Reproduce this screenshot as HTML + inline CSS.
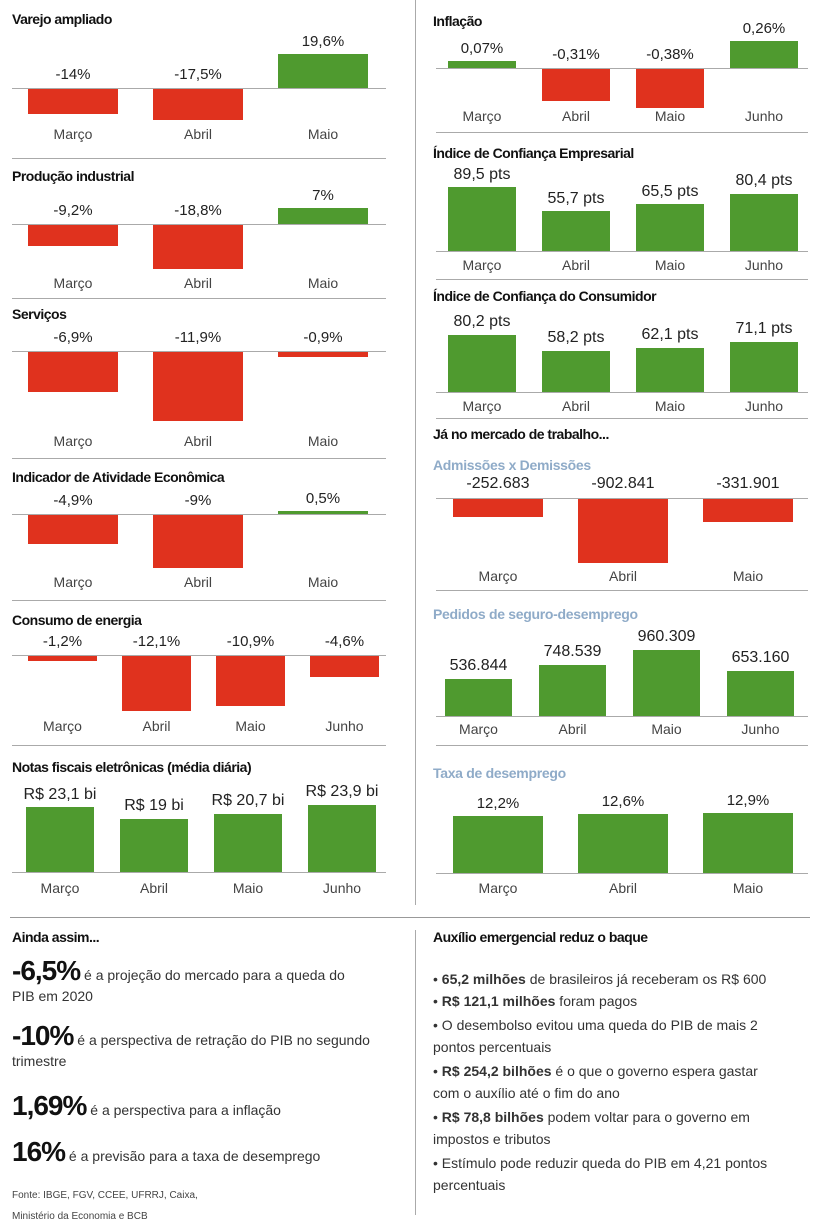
<!DOCTYPE html>
<html><head><meta charset="utf-8">
<style>
html,body{margin:0;padding:0;background:#fff}
#page{position:relative;width:820px;height:1225px;overflow:hidden;font-family:"Liberation Sans Narrow","Liberation Sans",sans-serif;color:#222}
.t{position:absolute;white-space:nowrap;line-height:1}
.b{position:absolute}
.ttl{font-weight:bold;font-size:14px;color:#111;letter-spacing:-0.5px}
.sub{font-weight:bold;font-size:14px;color:#8fabc8;letter-spacing:-0.3px}
.big{font-weight:bold;font-size:28px;color:#111;letter-spacing:-1px}
.txt{font-size:14px;color:#333}
</style></head><body>
<div id="page">
<div class="b" style="left:415px;top:0;width:1px;height:905px;background:#aaa"></div>
<div class="b" style="left:10px;top:917px;width:800px;height:1px;background:#999"></div>
<div class="b" style="left:415px;top:930px;width:1px;height:285px;background:#aaa"></div>

<div class="t ttl" style="left:12px;top:930px">Ainda assim...</div>
<div class="t txt" style="left:12px;top:960px;line-height:21px;white-space:normal;width:380px"><span class="big">-6,5%</span> é a projeção do mercado para a queda do<br>PIB em 2020</div>
<div class="t txt" style="left:12px;top:1025px;line-height:21px;white-space:normal;width:390px"><span class="big">-10%</span> é a perspectiva de retração do PIB no segundo<br>trimestre</div>
<div class="t txt" style="left:12px;top:1092px"><span class="big">1,69%</span> é a perspectiva para a inflação</div>
<div class="t txt" style="left:12px;top:1138px"><span class="big">16%</span> é a previsão para a taxa de desemprego</div>
<div class="t" style="left:12px;top:1185px;font-size:10px;color:#444;line-height:21px">Fonte: IBGE, FGV, CCEE, UFRRJ, Caixa,<br>Ministério da Economia e BCB</div>

<div class="t ttl" style="left:433px;top:930px">Auxílio emergencial reduz o baque</div>
<div class="t txt" style="left:433px;top:969px;line-height:21.5px;white-space:normal;width:370px">
<div>• <b>65,2 milhões</b> de brasileiros já receberam os R$ 600</div>
<div>• <b>R$ 121,1 milhões</b> foram pagos</div>
<div style="margin-top:3px">• O desembolso evitou uma queda do PIB de mais 2<br>pontos percentuais</div>
<div style="margin-top:3px">• <b>R$ 254,2 bilhões</b> é o que o governo espera gastar<br>com o auxílio até o fim do ano</div>
<div style="margin-top:3px">• <b>R$ 78,8 bilhões</b> podem voltar para o governo em<br>impostos e tributos</div>
<div style="margin-top:3px">• Estímulo pode reduzir queda do PIB em 4,21 pontos<br>percentuais</div>
</div>
<div class="t ttl" style="left:433px;top:427px">Já no mercado de trabalho...</div>
</div>
<script>
// ---- data ----
const m3 = ["Março","Abril","Maio"];
const m4 = ["Março","Abril","Maio","Junho"];
const varejoVals = [-14, -17.5, 19.6];
const varejoLabels = ["-14%","-17,5%","19,6%"];
const producaoVals = [-9.2, -18.8, 7];
const producaoLabels = ["-9,2%","-18,8%","7%"];
const servicosVals = [-6.9, -11.9, -0.9];
const servicosLabels = ["-6,9%","-11,9%","-0,9%"];
const ibcVals = [-4.9, -9, 0.5];
const ibcLabels = ["-4,9%","-9%","0,5%"];
const energiaVals = [-1.2, -12.1, -10.9, -4.6];
const energiaLabels = ["-1,2%","-12,1%","-10,9%","-4,6%"];
const notasVals = [23.1, 19, 20.7, 23.9];
const notasLabels = ["R$ 23,1 bi","R$ 19 bi","R$ 20,7 bi","R$ 23,9 bi"];
const inflacaoVals = [0.07, -0.31, -0.38, 0.26];
const inflacaoLabels = ["0,07%","-0,31%","-0,38%","0,26%"];
const iceVals = [89.5, 55.7, 65.5, 80.4];
const iceLabels = ["89,5 pts","55,7 pts","65,5 pts","80,4 pts"];
const iccVals = [80.2, 58.2, 62.1, 71.1];
const iccLabels = ["80,2 pts","58,2 pts","62,1 pts","71,1 pts"];
const cagedVals = [-252683, -902841, -331901];
const cagedLabels = ["-252.683","-902.841","-331.901"];
const seguroVals = [536844, 748539, 960309, 653160];
const seguroLabels = ["536.844","748.539","960.309","653.160"];
const desempVals = [12.2, 12.6, 12.9];
const desempLabels = ["12,2%","12,6%","12,9%"];

const page = document.getElementById('page');
const RED = "#e0321e", GREEN = "#4f9a2f";
function txt(x, y, s, size, cls, name, anchorLeft){
  const d = document.createElement('div');
  d.className = 't ' + (cls||'');
  d.textContent = s;
  d.style.fontSize = size + 'px';
  if (anchorLeft){ d.style.left = x + 'px'; }
  else { d.style.left = (x - 70) + 'px'; d.style.width = '140px'; d.style.textAlign = 'center'; }
  d.style.top = (y - size*0.8) + 'px';
  
  
  page.appendChild(d);
  return d;
}
function hline(x0, x1, y, name, color){
  const d = document.createElement('div');
  d.className = 'b';
  d.style.cssText = `left:${x0}px;top:${y}px;width:${x1-x0}px;height:1px;background:${color||'#999'}`;
  
  
  page.appendChild(d);
}
function chart(c){
  txt(c.tx, c.ty, c.title, 14, c.sub ? 'sub' : 'ttl', c.id + '-title', true);
  const yScale = v => v * c.k;
  hline(c.lx0, c.lx1, c.zero, c.id + '-zero-line', '#aaa');
  c.vals.forEach((v, i) => {
    const x = c.x0 + i * c.step;
    const h = Math.max(2, Math.abs(yScale(v)));
    const top = v >= 0 ? c.zero - h : c.zero + 1;
    const bar = document.createElement('div');
    bar.className = 'b';
    bar.style.cssText = `left:${x}px;top:${top}px;width:${c.w}px;height:${h}px;background:${v>=0?GREEN:RED}`;
    
    
    page.appendChild(bar);
    const cx = x + c.w/2;
    const ly = v >= 0 ? top - 8 : c.zero - 9;
    txt(cx, ly, c.labels[i], c.vs || 15, '', c.id + '-value-label');
    txt(cx, c.my, c.cats[i], 14, '', c.id + '-month-label').style.color = '#444';
  });
  if (c.div) hline(c.lx0, c.lx1, c.div, c.id + '-divider', '#aaa');
}
// left column
chart({id:'varejo',title:'Varejo ampliado',tx:12,ty:23,zero:88,k:1.75,x0:28,step:125,w:90,cats:m3,vals:varejoVals,labels:varejoLabels,my:138,lx0:12,lx1:386,div:158});
chart({id:'producao',title:'Produção industrial',tx:12,ty:180,zero:224,k:2.33,x0:28,step:125,w:90,cats:m3,vals:producaoVals,labels:producaoLabels,my:287,lx0:12,lx1:386,div:298});
chart({id:'servicos',title:'Serviços',tx:12,ty:318,zero:351,k:5.8,x0:28,step:125,w:90,cats:m3,vals:servicosVals,labels:servicosLabels,my:445,lx0:12,lx1:386,div:458});
chart({id:'ibc',title:'Indicador de Atividade Econômica',tx:12,ty:481,zero:514,k:5.9,x0:28,step:125,w:90,cats:m3,vals:ibcVals,labels:ibcLabels,my:586,lx0:12,lx1:386,div:600});
chart({id:'energia',title:'Consumo de energia',tx:12,ty:624,zero:655,k:4.55,x0:28,step:94,w:69,cats:m4,vals:energiaVals,labels:energiaLabels,my:730,lx0:12,lx1:386,div:745});
chart({id:'notas',title:'Notas fiscais eletrônicas (média diária)',tx:12,ty:771,zero:872,k:2.8,x0:26,step:94,w:68,cats:m4,vals:notasVals,labels:notasLabels,my:892,lx0:12,lx1:386,vs:16});
// right column
chart({id:'inflacao',title:'Inflação',tx:433,ty:25,zero:68,k:102,x0:448,step:94,w:68,cats:m4,vals:inflacaoVals,labels:inflacaoLabels,my:120,lx0:436,lx1:808,div:132});
chart({id:'ice',title:'Índice de Confiança Empresarial',tx:433,ty:157,zero:251,k:0.71,x0:448,step:94,w:68,cats:m4,vals:iceVals,labels:iceLabels,my:269,lx0:436,lx1:808,div:279,vs:16});
chart({id:'icc',title:'Índice de Confiança do Consumidor',tx:433,ty:300,zero:392,k:0.71,x0:448,step:94,w:68,cats:m4,vals:iccVals,labels:iccLabels,my:410,lx0:436,lx1:808,vs:16});
hline(436,808,418,'icc-divider','#aaa');
chart({id:'caged',title:'Admissões x Demissões',sub:1,tx:433,ty:469,zero:498,k:0.0000708,x0:453,step:125,w:90,cats:m3,vals:cagedVals,labels:cagedLabels,my:580,lx0:436,lx1:808,div:590,vs:16});
chart({id:'seguro',title:'Pedidos de seguro-desemprego',sub:1,tx:433,ty:618,zero:716,k:0.0000688,x0:445,step:94,w:67,cats:m4,vals:seguroVals,labels:seguroLabels,my:733,lx0:436,lx1:808,div:745,vs:16});
chart({id:'desemprego',title:'Taxa de desemprego',sub:1,tx:433,ty:777,zero:873,k:4.65,x0:453,step:125,w:90,cats:m3,vals:desempVals,labels:desempLabels,my:892,lx0:436,lx1:808});
</script>
</body></html>
